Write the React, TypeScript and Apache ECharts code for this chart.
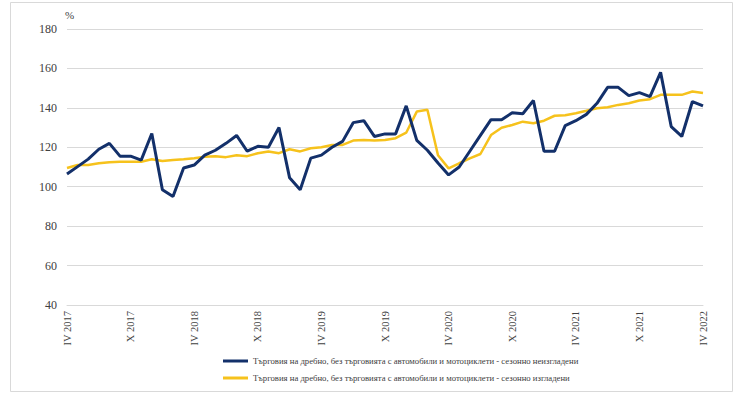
import React, { useEffect, useRef } from "react";
import * as echarts from "echarts";

const years = [2017, 2018, 2019, 2020, 2021, 2022];
const romanMonths = ["I", "II", "III", "IV", "V", "VI", "VII", "VIII", "IX", "X", "XI", "XII"];

// Monthly categories IV 2017 .. IV 2022
const categories: string[] = [];
for (const y of years) {
  for (let m = 0; m < 12; m++) {
    if (y === 2017 && m < 3) continue;
    if (y === 2022 && m > 3) continue;
    categories.push(romanMonths[m] + " " + y);
  }
}

const nameNotAdjusted =
  "Търговия на дребно, без търговията с автомобили и мотоциклети - сезонно неизгладени";
const nameAdjusted =
  "Търговия на дребно, без търговията с автомобили и мотоциклети - сезонно изгладени";

const notAdjusted = [
  106.4, 110.2, 114, 119, 122, 115.5, 115.5, 113.5, 127, 98.5, 95, 109.5,
  111, 116, 118.5, 122, 126, 118, 120.5, 120, 130, 104.5, 98.5, 114.5,
  116, 120, 123, 132.5, 133.5, 125.5, 126.8, 126.8, 141, 123.5, 118.5, 112,
  106, 110, 118, 126, 134, 134, 137.5, 137, 143.7, 118, 118, 131,
  133.5, 136.7, 142.3, 150.4, 150.4, 146.2, 147.7, 145.7, 158, 130.5, 125.5, 143.2,
  141,
];

const adjusted = [
  109.5, 111, 111, 111.9, 112.4, 112.7, 112.7, 112.7, 113.9, 113, 113.5, 113.9,
  114.4, 115.2, 115.5, 115, 116, 115.5, 117, 117.9, 117, 119, 117.9, 119.5,
  120, 121.2, 121.2, 123.4, 123.7, 123.4, 123.7, 124.6, 127.4, 138.1, 139, 116,
  109.3, 111.9, 114.4, 116.6, 126.2, 129.9, 131.3, 133, 132.2, 133.5, 136, 136.3,
  137.3, 138.5, 139.8, 140.3, 141.5, 142.3, 143.7, 144.4, 146.6, 146.6, 146.6, 148.3,
  147.5,
];

const yMin = 40;
const yMax = 180;
const yStep = 20;

const FONT = "'Liberation Serif', 'DejaVu Serif', serif";

export default function App() {
  const ref = useRef<HTMLDivElement>(null);

  useEffect(() => {
    if (!ref.current) return;
    const chart = echarts.init(ref.current, null, { renderer: "svg" });
    chart.setOption({
      animation: false,
      backgroundColor: "#ffffff",
      textStyle: { fontFamily: FONT },
      graphic: [
        {
          type: "rect",
          shape: { x: 10.5, y: 2.5, width: 722, height: 389 },
          style: { fill: "none", stroke: "#d9d9d9", lineWidth: 1 },
          silent: true,
        },
        {
          type: "text",
          left: 65,
          top: 9,
          style: { text: "%", fill: "#404040", font: "11px " + FONT },
        },
      ],
      grid: { left: 67, right: 37, top: 29, bottom: 92, containLabel: false },
      legend: {
        orient: "vertical",
        left: 218,
        top: 350,
        itemWidth: 25,
        itemHeight: 3,
        itemGap: 5,
        icon: "rect",
        textStyle: {
          fontFamily: FONT,
          fontSize: 8.7,
          color: "#404040",
          lineHeight: 12,
        },
        data: [nameNotAdjusted, nameAdjusted],
      },
      xAxis: {
        type: "category",
        data: categories,
        boundaryGap: false,
        axisLine: { show: true, lineStyle: { color: "#d9d9d9", width: 1 } },
        axisTick: { show: false },
        axisLabel: {
          interval: 5,
          rotate: 90,
          color: "#404040",
          fontFamily: FONT,
          fontSize: 10.5,
          margin: 6,
        },
      },
      yAxis: {
        type: "value",
        min: yMin,
        max: yMax,
        interval: yStep,
        axisLine: { show: false },
        axisTick: { show: false },
        splitLine: { lineStyle: { color: "#d9d9d9", width: 1 } },
        axisLabel: {
          color: "#404040",
          fontFamily: FONT,
          fontSize: 12,
          margin: 10,
        },
      },
      series: [
        {
          name: nameNotAdjusted,
          type: "line",
          data: notAdjusted,
          showSymbol: false,
          symbol: "none",
          lineStyle: { color: "#13306a", width: 3 },
          itemStyle: { color: "#13306a" },
          z: 3,
        },
        {
          name: nameAdjusted,
          type: "line",
          data: adjusted,
          showSymbol: false,
          symbol: "none",
          lineStyle: { color: "#f6c21c", width: 2.5 },
          itemStyle: { color: "#f6c21c" },
          z: 2,
        },
      ],
    });
    return () => chart.dispose();
  }, []);

  return (
    <div
      ref={ref}
      style={{ position: "absolute", left: 0, top: 0, width: 740, height: 397 }}
    />
  );
}
